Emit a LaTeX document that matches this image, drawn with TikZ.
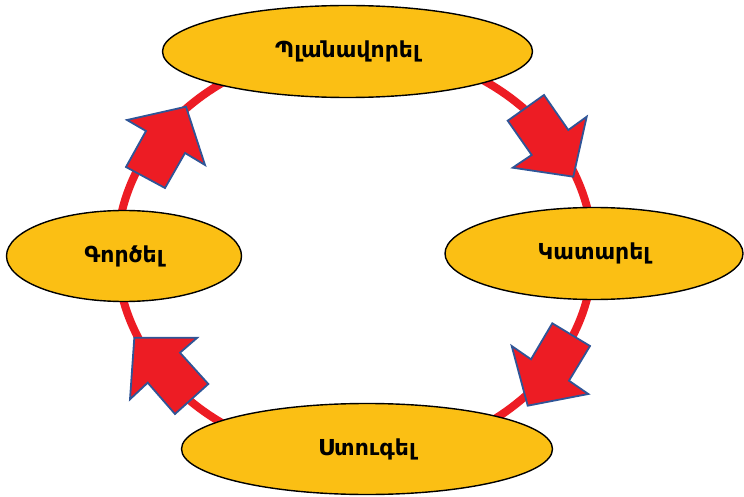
\documentclass[tikz,border=0pt]{standalone}
\usepackage{fontspec}
\setmainfont{DejaVu Sans}
\usetikzlibrary{shapes.geometric}
\definecolor{gold}{HTML}{FBBF14}
\definecolor{ringred}{HTML}{ED1C24}
\definecolor{arrowblue}{HTML}{2F5597}
\tikzset{
  stage/.style={ellipse, draw=black, line width=1.4pt, fill=gold, inner sep=0pt,
    font=\fontsize{22}{26}\selectfont\bfseries},
  ringline/.style={draw=ringred, line width=8pt},
  blockarrow/.style={fill=ringred, draw=arrowblue, line width=1.8pt, line join=miter}
}
\begin{document}
\begin{tikzpicture}[x=1pt,y=-1pt]
\useasboundingbox (0,0) rectangle (744,497);
% ring
\draw[ringline] (355,253) ellipse [x radius=238pt, y radius=205pt];
% block arrows
\draw[blockarrow] (186,106.7) -- (205,165) -- (185,153) -- (165,188) -- (126,167) -- (146,131) -- (127,120) -- cycle;
\draw[blockarrow] (544,95) -- (568.3,130) -- (586.7,116.7) -- (573.3,176.7) -- (512.7,167.7) -- (531.7,155) -- (507.7,120.7) -- cycle;
\draw[blockarrow] (552.3,323.3) -- (590,346) -- (569,380.7) -- (588.3,394) -- (527.7,405.7) -- (511.7,346) -- (531,359.3) -- cycle;
\draw[blockarrow] (134.3,337.7) -- (197.3,337.7) -- (180,352.7) -- (208.3,384) -- (175,414) -- (147.7,382.7) -- (130,399.3) -- cycle;
% stages
\node[stage, minimum width=370pt, minimum height=92pt] (plan) at (347.5,51.5) {Պլանավորել};
\node[stage, minimum width=298pt, minimum height=92pt] (do) at (594,253.5) {Կատարել};
\node[stage, minimum width=371pt, minimum height=91pt] (check) at (367,449) {Ստուգել};
\node[stage, minimum width=235pt, minimum height=91pt] (act) at (124,256) {Գործել};
\end{tikzpicture}
\end{document}
